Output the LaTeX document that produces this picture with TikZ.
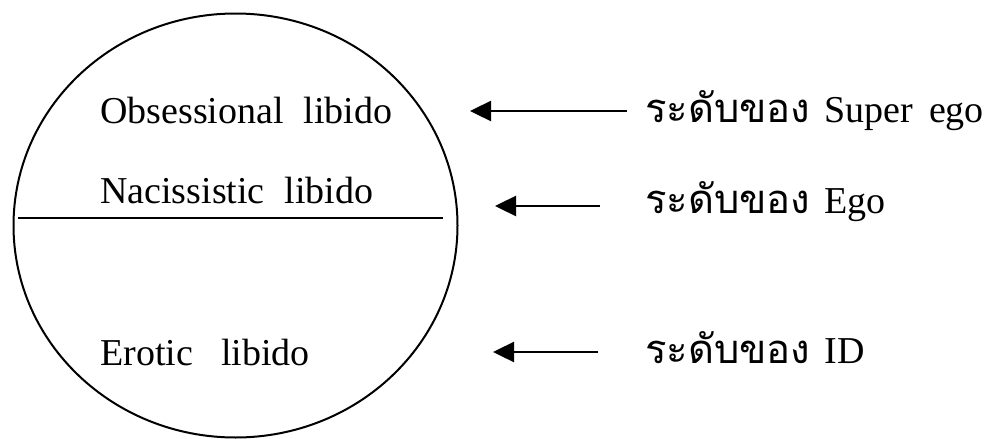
\documentclass[tikz,border=0pt]{standalone}
\usepackage{fontspec}
\setmainfont{Liberation Serif}
\newfontfamily\thaifont[Script=Thai]{Loma}
\usetikzlibrary{arrows.meta}
\tikzset{
  lbl/.style={anchor=base west, inner sep=0pt, font=\fontsize{38}{40}\selectfont},
  thlbl/.style={anchor=base west, inner sep=0pt, font=\fontsize{38}{40}\selectfont},
  arr/.style={line width=2.4pt, -{Triangle[length=21pt,width=20pt]}},
  ln/.style={line width=2pt}
}
\newcommand{\thtxt}[1]{{\thaifont\fontsize{40}{42}\selectfont #1}}
\begin{document}
\begin{tikzpicture}[x=1pt,y=-1pt]
\useasboundingbox (0,0) rectangle (988,439);
\fill[white] (0,0) rectangle (988,439);
\draw[ln] (235.5,225.5) ellipse [x radius=222, y radius=212];
\coordinate (hl) at (18,218);
\coordinate (hr) at (443,218);
\draw[line width=2.5pt] (hl) -- (hr);
\node[lbl] (obs) at (100,123) {Obsessional\hspace{20pt}libido};
\node[lbl] (nac) at (100,203) {Nacissistic\hspace{20pt}libido};
\node[lbl] (ero) at (100,365) {Erotic\hspace{28pt}libido};
\node[thlbl] (t1) at (645,122) {\thtxt{ระดับของ}\hspace{14pt}Super\hspace{16pt}ego};
\node[thlbl] (t2) at (645,213) {\thtxt{ระดับของ}\hspace{14pt}Ego};
\node[thlbl] (t3) at (645,363) {\thtxt{ระดับของ}\hspace{14pt}ID};
\coordinate (s1) at (627,111);
\coordinate (e1) at (470,111);
\coordinate (s2) at (600,206);
\coordinate (e2) at (495,206);
\coordinate (s3) at (598,352);
\coordinate (e3) at (493,352);
\draw[arr] (s1) -- (e1);
\draw[arr] (s2) -- (e2);
\draw[arr] (s3) -- (e3);
\end{tikzpicture}
\end{document}
